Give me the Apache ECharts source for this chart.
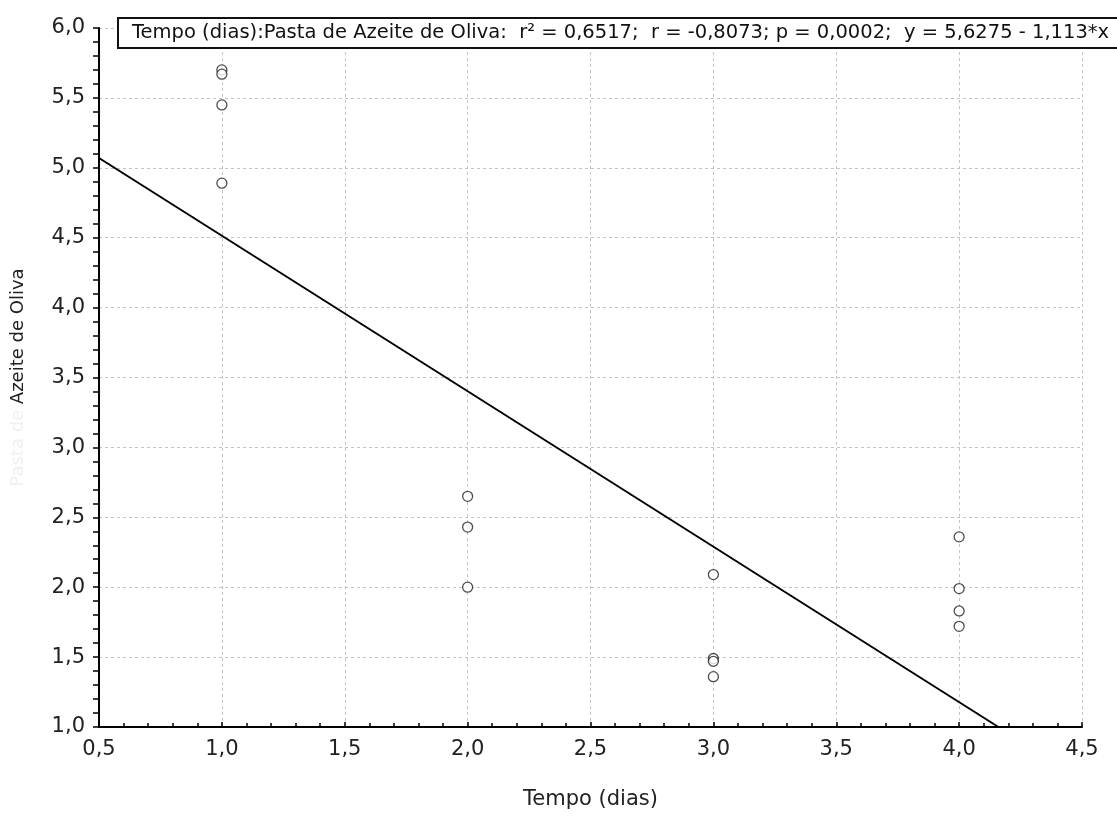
<!DOCTYPE html>
<html>
<head>
<meta charset="utf-8">
<script src="https://cdn.jsdelivr.net/npm/echarts@6/dist/echarts.min.js"></script>
<style>
html,body{margin:0;padding:0;background:#fff;}
#chart{width:1117px;height:816px;}
</style>
</head>
<body>
<div id="chart"></div>
<script>
// Data
var xDay1 = [1, 1, 1, 1];
var yDay1 = [5.70, 5.67, 5.45, 4.89];
var xDay2 = [2, 2, 2];
var yDay2 = [2.65, 2.43, 2.00];
var xDay3 = [3, 3, 3, 3];
var yDay3 = [2.09, 1.49, 1.47, 1.36];
var xDay4 = [4, 4, 4, 4];
var yDay4 = [2.36, 1.99, 1.83, 1.72];
// regression line end points
var lineX = [0.5, 4.16];
var lineY = [5.07, 1.0];
var titleText = 'Tempo (dias):Pasta de Azeite de Oliva:  r² = 0,6517;  r = -0,8073; p = 0,0002;  y = 5,6275 - 1,113*x';
var xName = 'Tempo (dias)';
var yNameFaint = 'Pasta de ';
var yNameVisible = 'Azeite de Oliva';

function pairs(xs, ys){ return xs.map(function(x,i){ return [x, ys[i]]; }); }
var points = [].concat(pairs(xDay1,yDay1), pairs(xDay2,yDay2), pairs(xDay3,yDay3), pairs(xDay4,yDay4));
var linePts = pairs(lineX, lineY);
function fmt(v){ return v.toFixed(1).replace('.', ','); }

var FONT = 'DejaVu Sans, Liberation Sans, Arial, sans-serif';
var chart = echarts.init(document.getElementById('chart'), null, {renderer:'canvas'});
chart.setOption({
  backgroundColor:'#fff',
  animation:false,
  title:{
    text:titleText,
    left:118, top:18,
    padding:[5,14,5,14],
    borderColor:'#111', borderWidth:2,
    backgroundColor:'#fff',
    textStyle:{fontFamily:FONT, fontSize:19.5, fontWeight:'normal', color:'#111'}
  },
  grid:{left:99, right:35, top:28, bottom:89, containLabel:false},
  xAxis:{
    type:'value', min:0.5, max:4.5, interval:0.5,
    name:xName, nameLocation:'middle', nameGap:62,
    nameTextStyle:{fontFamily:FONT, fontSize:21, color:'#222'},
    axisLine:{show:true, onZero:false, lineStyle:{color:'#000', width:2}},
    axisTick:{show:true, inside:true, length:5, lineStyle:{color:'#000', width:1.5}},
    minorTick:{show:true, splitNumber:5, length:4, lineStyle:{color:'#000', width:1.5}},
    axisLabel:{formatter:fmt, fontFamily:FONT, fontSize:21, color:'#222', margin:12},
    splitLine:{show:true, lineStyle:{color:'#c4c4c4', type:[3,3], width:1}}
  },
  yAxis:{
    type:'value', min:1, max:6, interval:0.5,
    name:'{f|'+yNameFaint+'}{v|'+yNameVisible+'}', nameLocation:'middle', nameGap:72, nameRotate:90,
    nameTextStyle:{fontFamily:FONT, fontSize:18, color:'#222',
      rich:{f:{fontFamily:FONT, fontSize:18, color:'#f0f0f0'}, v:{fontFamily:FONT, fontSize:18, color:'#222'}}},
    axisLine:{show:true, onZero:false, lineStyle:{color:'#000', width:2}},
    axisTick:{show:true, inside:false, length:6, lineStyle:{color:'#000', width:1.5}},
    minorTick:{show:true, splitNumber:5, length:6, lineStyle:{color:'#000', width:1.5}},
    axisLabel:{formatter:fmt, fontFamily:FONT, fontSize:21, color:'#222', margin:14},
    splitLine:{show:true, lineStyle:{color:'#c4c4c4', type:[3,3], width:1}}
  },
  series:[
    {type:'line', data:linePts, showSymbol:false, symbol:'none',
     lineStyle:{color:'#000', width:2}, z:3, silent:true},
    {type:'scatter', data:points, symbol:'circle', symbolSize:10,
     itemStyle:{color:'#fff', borderColor:'#222', borderWidth:1.3}, z:4}
  ]
});
</script>
</body>
</html>
